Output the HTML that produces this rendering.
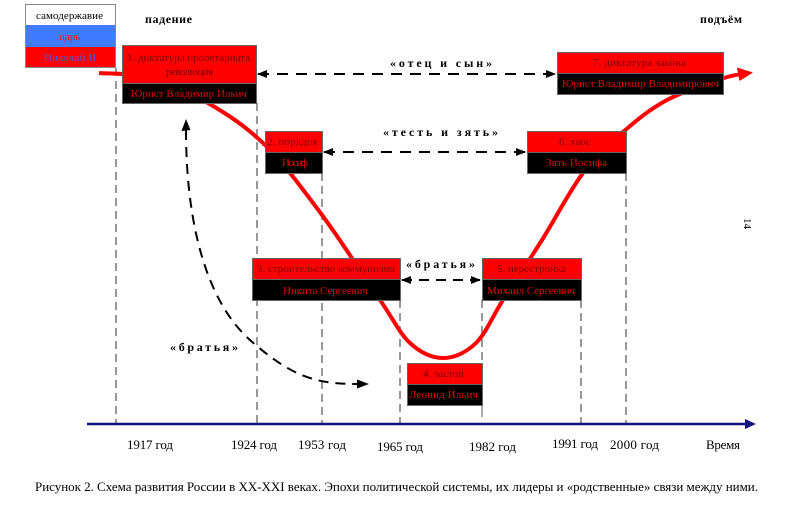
<!DOCTYPE html>
<html><head><meta charset="utf-8"><style>
html,body{margin:0;padding:0;background:#fff;}
svg{display:block;}
text{font-family:"Liberation Serif","Noto Serif CJK SC",serif;}
</style></head><body>
<svg width="800" height="514" viewBox="0 0 800 514" xmlns="http://www.w3.org/2000/svg">
<defs>
<marker id="ah" markerWidth="10" markerHeight="8" refX="9" refY="4" orient="auto" markerUnits="userSpaceOnUse">
<path d="M0,0 L10,4 L0,8 Z" fill="#000"/>
</marker>
<marker id="ahs" markerWidth="10" markerHeight="8" refX="1" refY="4" orient="auto" markerUnits="userSpaceOnUse">
<path d="M10,0 L0,4 L10,8 Z" fill="#000"/>
</marker>
</defs>

<!-- vertical dashed lines -->
<g stroke="#777" stroke-width="1.5" stroke-dasharray="8 5" fill="none">
<line x1="116" y1="68" x2="116" y2="424"/>
<line x1="257" y1="103" x2="257" y2="424"/>
<line x1="322" y1="173" x2="322" y2="424"/>
<line x1="400" y1="300" x2="400" y2="424"/>
<line x1="482" y1="300" x2="482" y2="363"/>
<line x1="581" y1="300" x2="581" y2="424"/>
<line x1="626" y1="173" x2="626" y2="424"/>
</g>
<line x1="482" y1="405" x2="482" y2="417" stroke="#555" stroke-width="1"/>

<!-- axis -->
<line x1="87" y1="424" x2="748" y2="424" stroke="#101080" stroke-width="2.5"/>
<path d="M756,424 L745,419 L745,429 Z" fill="#101080"/>

<!-- red curve -->
<path d="M99,73 C107.5,73.8 131.8,73 150,78 C168.2,83 188.8,91.8 208,103 C227.2,114.2 246,126.3 265,145 C284,163.7 302.8,189.2 322,215 C341.2,240.8 365.3,278.7 380,300 C394.7,321.3 399.5,333.3 410,343 C420.5,352.7 432,358 443,358 C454,358 466,352.7 476,343 C486,333.3 492,317.2 503,300 C514,282.8 528.7,261.2 542,240 C555.3,218.8 569.5,191 583,173 C596.5,155 609,144.2 623,132 C637,119.8 650.2,109 667,100 C683.8,91 711.8,82.2 724,78 C732,75.5 736,74.8 740,74.3" fill="none" stroke="#ff0000" stroke-width="4"/>
<path d="M753,72.5 L737,67.5 L739.5,81 Z" fill="#ff0000"/>

<!-- legend -->
<rect x="25" y="4" width="91" height="21" fill="#fff"/>
<rect x="25" y="25" width="91" height="22" fill="#3f7bff"/>
<rect x="25" y="47" width="91" height="21" fill="#ff0000"/>
<rect x="25.5" y="4.5" width="90" height="63" fill="none" stroke="#888" stroke-width="1"/>
<text x="36" y="19" font-size="11" fill="#000" textLength="67" lengthAdjust="spacing">самодержавие</text>
<text x="59" y="40" font-size="11" fill="#e0201a">царь</text>
<text x="44" y="61" font-size="11" fill="#3f5fe0" textLength="52" lengthAdjust="spacing">Николай II</text>

<!-- top labels -->
<text x="145" y="23" font-size="12" font-weight="bold" fill="#000" textLength="47" lengthAdjust="spacing">падение</text>
<text x="700" y="23" font-size="12" font-weight="bold" fill="#000" textLength="42" lengthAdjust="spacing">подъём</text>

<!-- dashed double arrows -->
<g stroke="#000" stroke-width="2" stroke-dasharray="11 8" fill="none">
<line x1="258" y1="74" x2="555" y2="74" marker-start="url(#ahs)" marker-end="url(#ah)"/>
<line x1="324" y1="152" x2="525" y2="152" marker-start="url(#ahs)" marker-end="url(#ah)"/>
<line x1="402" y1="280" x2="480" y2="280" marker-start="url(#ahs)" marker-end="url(#ah)" stroke-dasharray="10 7"/>
<path d="M186,130 C186,220 205,300 250,340 C295,380 320,384 360,384" stroke-dasharray="10 7"/>
</g>
<path d="M186,119 L181.5,131 L190.5,130 Z" fill="#000"/>
<path d="M369,384 L357,379.5 L357,388.5 Z" fill="#000"/>

<g font-size="12" font-weight="bold" fill="#000">
<text x="390" y="67" textLength="102" lengthAdjust="spacing">«отец и сын»</text>
<text x="383" y="136" textLength="115" lengthAdjust="spacing">«тесть и зять»</text>
<text x="406" y="268" textLength="69" lengthAdjust="spacing">«братья»</text>
<text x="170" y="351" textLength="68" lengthAdjust="spacing">«братья»</text>
</g>

<!-- boxes -->
<g stroke="#666" stroke-width="1">
<rect x="122.5" y="45.5" width="134" height="38" fill="#ff0000"/>
<rect x="122.5" y="83.5" width="134" height="20" fill="#000"/>
<rect x="557.5" y="52.5" width="166" height="21" fill="#ff0000"/>
<rect x="557.5" y="73.5" width="166" height="21" fill="#000"/>
<rect x="265.5" y="131.5" width="57" height="21" fill="#ff0000"/>
<rect x="265.5" y="152.5" width="57" height="21" fill="#000"/>
<rect x="527.5" y="131.5" width="99" height="21" fill="#ff0000"/>
<rect x="527.5" y="152.5" width="99" height="21" fill="#000"/>
<rect x="252.5" y="258.5" width="148" height="21" fill="#ff0000"/>
<rect x="252.5" y="279.5" width="148" height="21" fill="#000"/>
<rect x="482.5" y="258.5" width="99" height="21" fill="#ff0000"/>
<rect x="482.5" y="279.5" width="99" height="21" fill="#000"/>
<rect x="407.5" y="363.5" width="75" height="21" fill="#ff0000"/>
<rect x="407.5" y="384.5" width="75" height="21" fill="#000"/>
</g>

<g font-size="11">
<text x="127" y="61" fill="#7a0000" textLength="123" lengthAdjust="spacing">1. диктатура пролетариата</text>
<text x="166" y="75" fill="#7a0000" textLength="47" lengthAdjust="spacing">революция</text>
<text x="131" y="97" fill="#e00000" textLength="116" lengthAdjust="spacing">Юрист Владимир Ильич</text>

<text x="593" y="66" fill="#7a0000" textLength="93" lengthAdjust="spacing">7. диктатура закона</text>
<text x="562" y="87" fill="#e00000" textLength="157" lengthAdjust="spacing">Юрист Владимир Владимирович</text>

<text x="267" y="145" fill="#7a0000" textLength="51" lengthAdjust="spacing">2. порядок</text>
<text x="282" y="166" fill="#e00000" textLength="26" lengthAdjust="spacing">Иосиф</text>

<text x="559" y="145" fill="#7a0000">6. хаос</text>
<text x="546" y="166" fill="#e00000" textLength="61" lengthAdjust="spacing">Зять Иосифа</text>

<text x="257" y="272" fill="#7a0000" textLength="138" lengthAdjust="spacing">3. строительство коммунизма</text>
<text x="283" y="294" fill="#e00000" textLength="85" lengthAdjust="spacing">Никита Сергеевич</text>

<text x="497" y="272" fill="#7a0000" textLength="69" lengthAdjust="spacing">5. перестройка</text>
<text x="487" y="294" fill="#e00000" textLength="88" lengthAdjust="spacing">Михаил Сергеевич</text>

<text x="423" y="377" fill="#7a0000" textLength="41" lengthAdjust="spacing">4. застой</text>
<text x="409" y="398" fill="#e00000" textLength="69" lengthAdjust="spacing">Леонид Ильич</text>
</g>

<!-- page number -->
<text x="740" y="222" font-size="11" fill="#000" transform="rotate(90 744 222)">14</text>

<!-- years -->
<g font-size="13" fill="#000">
<text x="127" y="449" textLength="46" lengthAdjust="spacing">1917 год</text>
<text x="231" y="449" textLength="46" lengthAdjust="spacing">1924 год</text>
<text x="298" y="449" textLength="48" lengthAdjust="spacing">1953 год</text>
<text x="377" y="451" textLength="46" lengthAdjust="spacing">1965 год</text>
<text x="469" y="451" textLength="47" lengthAdjust="spacing">1982 год</text>
<text x="552" y="448" textLength="46" lengthAdjust="spacing">1991 год</text>
<text x="610" y="449" textLength="49" lengthAdjust="spacing">2000 год</text>
<text x="706" y="449" textLength="34" lengthAdjust="spacing">Время</text>
</g>

<!-- caption -->
<text x="35" y="491" font-size="13" fill="#000" textLength="723" lengthAdjust="spacing">Рисунок 2. Схема развития России в XX-XXI веках. Эпохи политической системы,  их лидеры и «родственные» связи между ними.</text>
</svg>
</body></html>
